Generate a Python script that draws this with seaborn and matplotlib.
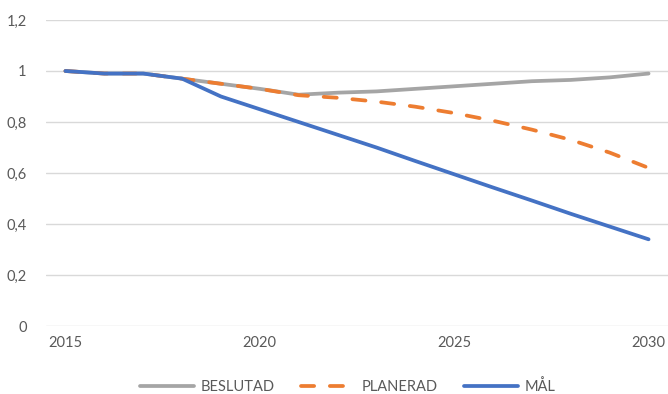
import matplotlib
matplotlib.use("Agg")
import matplotlib.pyplot as plt
import seaborn as sns
import pandas as pd
from matplotlib.lines import Line2D
from matplotlib.ticker import FuncFormatter

years = list(range(2015, 2031))
beslutad = [1.0, 0.99, 0.99, 0.97, 0.95, 0.93, 0.907, 0.915, 0.92, 0.93, 0.94, 0.95, 0.96, 0.965, 0.975, 0.99]
planerad = [1.0, 0.99, 0.99, 0.97, 0.95, 0.93, 0.905, 0.895, 0.88, 0.86, 0.835, 0.805, 0.77, 0.73, 0.68, 0.62]
mal = [1.0, 0.99, 0.99, 0.97, 0.90, 0.85, 0.80, 0.75, 0.70, 0.647, 0.595, 0.543, 0.492, 0.44, 0.39, 0.34]
series_names = ["BESLUTAD", "PLANERAD", "MÅL"]
x_ticks = [2015, 2020, 2025, 2030]
y_ticks = [0, 0.2, 0.4, 0.6, 0.8, 1.0, 1.2]

colors = {"BESLUTAD": "#A5A5A5", "PLANERAD": "#ED7D31", "MÅL": "#4472C4"}
text_color = "#595959"

sns.set_theme(style="white")
plt.rcParams["font.family"] = ["Lato", "DejaVu Sans"]

df = pd.DataFrame({"År": years * 3,
                   "Värde": beslutad + planerad + mal,
                   "Serie": [series_names[0]] * len(years) + [series_names[1]] * len(years) + [series_names[2]] * len(years)})

fig = plt.figure(figsize=(6.68, 3.94), dpi=100)
ax = fig.add_axes([46 / 668, 1 - 326 / 394, 1 - 46 / 668, (326 - 20) / 394])

lw = 2.7
dash = (3.5, 4.2)
for z, name in enumerate(series_names):
    sub = df[df["Serie"] == name]
    if name == "PLANERAD":
        line_kw = dict(dashes=dash, dash_capstyle="round")
    else:
        line_kw = dict(solid_capstyle="round")
    sns.lineplot(data=sub, x="År", y="Värde", ax=ax, legend=False, color=colors[name],
                 linewidth=lw, zorder=3 + z, **line_kw)

ax.set_xlim(2014.5, 2030.5)
ax.set_ylim(0, 1.2)
ax.set_xticks(x_ticks)
ax.set_yticks(y_ticks)
ax.yaxis.set_major_formatter(FuncFormatter(lambda v, p: ("%g" % round(v, 1)).replace(".", ",")))
ax.grid(axis="y", color="#D9D9D9", linewidth=1)
ax.grid(axis="x", visible=False)
for s in ax.spines.values():
    s.set_visible(False)
ax.tick_params(axis="both", length=0, labelsize=10.5, labelcolor=text_color)
ax.tick_params(axis="y", pad=14)
ax.tick_params(axis="x", pad=7)
ax.set_xlabel("")
ax.set_ylabel("")

handles = [Line2D([], [], color=colors["BESLUTAD"], linewidth=lw),
           Line2D([], [], color=colors["PLANERAD"], linewidth=lw, dashes=dash, dash_capstyle="round"),
           Line2D([], [], color=colors["MÅL"], linewidth=lw)]
fig.legend(handles, series_names, loc="center", bbox_to_anchor=(348 / 668, 1 - 387 / 394),
           ncol=3, frameon=False, fontsize=10.5, handlelength=3.7, handletextpad=0.45,
           columnspacing=1.8, labelcolor=text_color)

fig.savefig("out.png", dpi=100)
